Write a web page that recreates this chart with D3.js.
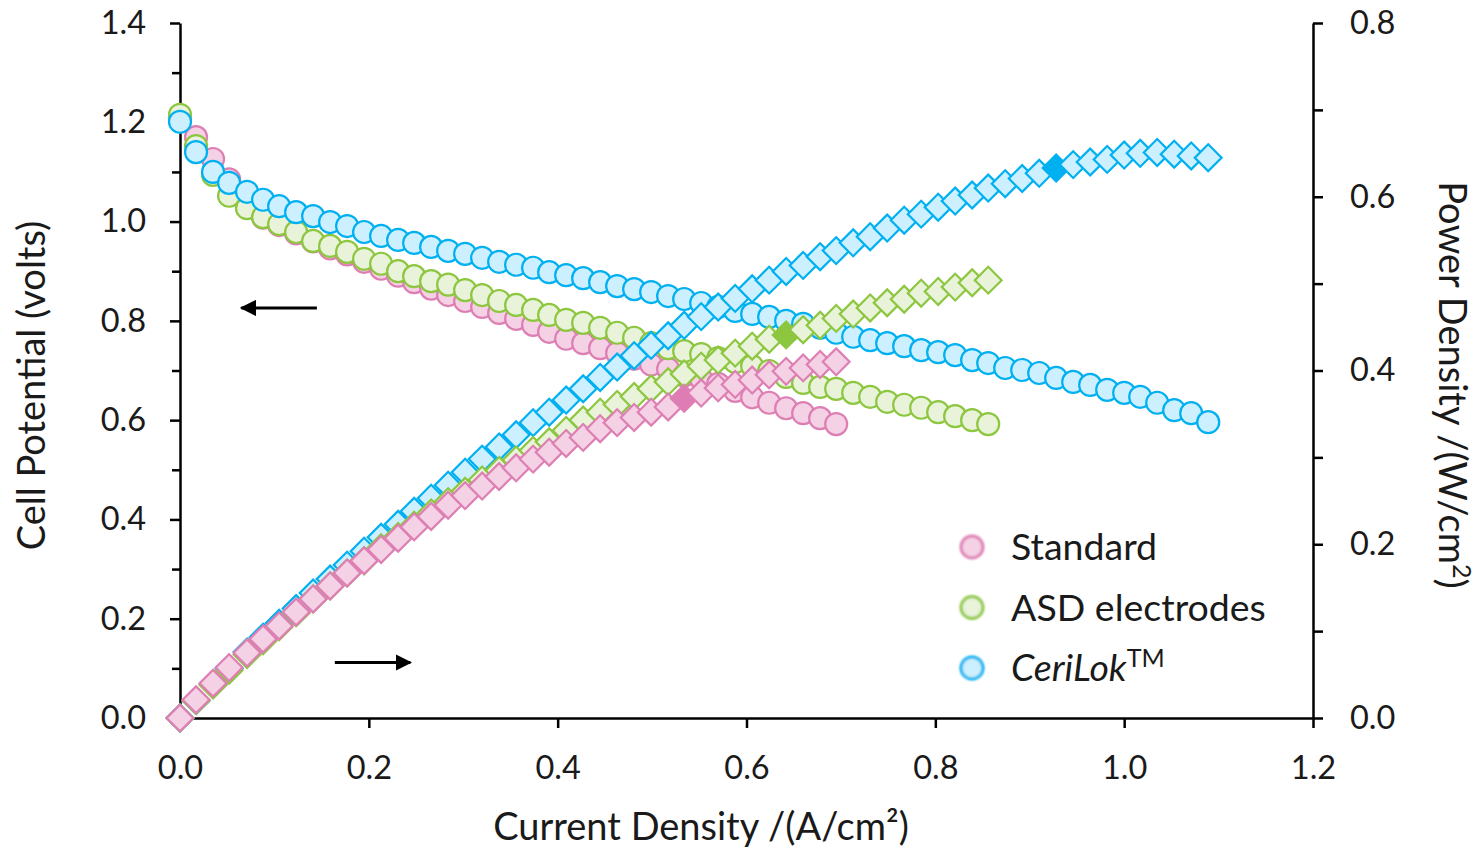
<!DOCTYPE html>
<html>
<head>
<meta charset="utf-8">
<script src="https://cdn.jsdelivr.net/npm/d3@7"></script>
<style>
  html, body { margin: 0; padding: 0; background: #fff; }
  svg { display: block; font-family: Lato, "Open Sans", sans-serif; }
</style>
</head>
<body>
<svg id="chart" width="1480" height="848"></svg>
<script>
// ---------------- data ----------------
const currentDensity = [
  0.000, 0.017, 0.035, 0.052, 0.071, 0.088, 0.105, 0.123, 0.141, 0.159,
  0.177, 0.195, 0.213, 0.231, 0.248, 0.266, 0.284, 0.302, 0.320, 0.338,
  0.356, 0.374, 0.391, 0.409, 0.427, 0.445, 0.463, 0.481, 0.499, 0.517,
  0.534, 0.552, 0.570, 0.588, 0.606, 0.624, 0.642, 0.660, 0.678, 0.695,
  0.713, 0.731, 0.749, 0.767, 0.785, 0.803, 0.821, 0.839, 0.856, 0.874,
  0.892, 0.910, 0.928, 0.946, 0.964, 0.982, 1.000, 1.017, 1.035, 1.053,
  1.071, 1.089
];

const standardVoltage = [
  1.205, 1.170, 1.126, 1.085, 1.035, 1.008, 0.993, 0.976, 0.960, 0.946,
  0.934, 0.919, 0.905, 0.891, 0.878, 0.865, 0.852, 0.840, 0.828, 0.816,
  0.804, 0.792, 0.778, 0.764, 0.755, 0.745, 0.735, 0.724, 0.712, 0.703,
  0.690, 0.683, 0.673, 0.659, 0.646, 0.635, 0.624, 0.614, 0.604, 0.592
];
const standardPower = [
  0.000, 0.021, 0.040, 0.058, 0.075, 0.091, 0.106, 0.122, 0.137, 0.152,
  0.167, 0.181, 0.194, 0.207, 0.220, 0.232, 0.245, 0.256, 0.267, 0.278,
  0.288, 0.298, 0.306, 0.316, 0.323, 0.333, 0.340, 0.346, 0.352, 0.358,
  0.368, 0.374, 0.380, 0.384, 0.389, 0.395, 0.399, 0.403, 0.407, 0.410
];

const asdVoltage = [
  1.215, 1.152, 1.094, 1.052, 1.027, 1.009, 0.995, 0.979, 0.961, 0.951,
  0.939, 0.925, 0.915, 0.900, 0.890, 0.880, 0.873, 0.862, 0.852, 0.840,
  0.832, 0.822, 0.812, 0.802, 0.796, 0.786, 0.776, 0.766, 0.755, 0.745,
  0.739, 0.733, 0.725, 0.717, 0.709, 0.699, 0.687, 0.675, 0.667, 0.663,
  0.655, 0.647, 0.637, 0.631, 0.625, 0.616, 0.608, 0.600, 0.592
];
const asdPower = [
  0.000, 0.020, 0.038, 0.055, 0.073, 0.089, 0.105, 0.121, 0.137, 0.152,
  0.167, 0.181, 0.196, 0.209, 0.222, 0.236, 0.249, 0.261, 0.274, 0.285,
  0.297, 0.308, 0.318, 0.331, 0.343, 0.352, 0.361, 0.370, 0.379, 0.387,
  0.396, 0.405, 0.412, 0.420, 0.428, 0.436, 0.441, 0.447, 0.452, 0.460,
  0.465, 0.472, 0.478, 0.482, 0.489, 0.491, 0.496, 0.501, 0.504
];

const ceriLokVoltage = [
  1.201, 1.140, 1.100, 1.078, 1.060, 1.044, 1.031, 1.019, 1.011, 0.999,
  0.991, 0.979, 0.971, 0.963, 0.957, 0.949, 0.941, 0.935, 0.927, 0.919,
  0.913, 0.907, 0.898, 0.892, 0.886, 0.878, 0.870, 0.864, 0.858, 0.850,
  0.844, 0.836, 0.828, 0.820, 0.814, 0.808, 0.800, 0.794, 0.786, 0.776,
  0.768, 0.761, 0.755, 0.749, 0.741, 0.737, 0.731, 0.721, 0.715, 0.705,
  0.701, 0.695, 0.685, 0.677, 0.671, 0.661, 0.655, 0.647, 0.635, 0.620,
  0.614, 0.596
];
const ceriLokPower = [
  0.000, 0.020, 0.039, 0.057, 0.076, 0.093, 0.109, 0.126, 0.144, 0.160,
  0.176, 0.192, 0.208, 0.223, 0.238, 0.253, 0.268, 0.283, 0.298, 0.312,
  0.326, 0.340, 0.352, 0.366, 0.379, 0.392, 0.404, 0.417, 0.429, 0.440,
  0.452, 0.462, 0.473, 0.483, 0.494, 0.504, 0.514, 0.521, 0.531, 0.538,
  0.547, 0.554, 0.564, 0.573, 0.580, 0.588, 0.595, 0.602, 0.610, 0.615,
  0.621, 0.627, 0.633, 0.637, 0.640, 0.643, 0.648, 0.650, 0.651, 0.649,
  0.647, 0.645
];

// index of the highlighted (filled) power point of each series
const highlightIndex = { standard: 30, asd: 36, cerilok: 52 };

const seriesNames = ["Standard", "ASD electrodes", "CeriLok"];
const xTicks = [0, 0.2, 0.4, 0.6, 0.8, 1.0, 1.2];
const yLeftTicks = [0, 0.2, 0.4, 0.6, 0.8, 1.0, 1.2, 1.4];
const yLeftMinor = [0.1, 0.3, 0.5, 0.7, 0.9, 1.1, 1.3];
const yRightTicks = [0, 0.2, 0.4, 0.6, 0.8];
const yRightMinor = [0.1, 0.3, 0.5, 0.7];

// ---------------- styles ----------------
const styles = {
  standard: { stroke: "#DE7FB4", fill: "#F4D1E4", solid: "#DE7CB4" },
  asd:      { stroke: "#8DC63F", fill: "#E8F3DA", solid: "#8DC63F" },
  cerilok:  { stroke: "#00B0F0", fill: "#CCF0FF", solid: "#00B0F0" }
};

const series = [
  { key: "standard", V: standardVoltage, P: standardPower },
  { key: "asd",      V: asdVoltage,      P: asdPower },
  { key: "cerilok",  V: ceriLokVoltage,  P: ceriLokPower }
];

// ---------------- scales ----------------
const L = 180, R = 1313, T = 23, B = 718;
const x = d3.scaleLinear().domain([0, 1.2]).range([L, R]);
const yL = d3.scaleLinear().domain([0, 1.4]).range([B, T]);
const yR = d3.scaleLinear().domain([0, 0.8]).range([B, T]);

const svg = d3.select("#chart");
const fmt = d3.format(".1f");
const tickFont = 32.5;
const titleFont = 38;

// ---------------- axes ----------------
const axisColor = "#000";
function styleAxis(g) {
  g.select(".domain").attr("stroke", axisColor).attr("stroke-width", 2.5);
  g.selectAll(".tick line").attr("stroke", axisColor).attr("stroke-width", 2.5);
  g.selectAll(".tick text").attr("fill", "#1a1a1a").style("font-size", tickFont + "px")
    .style("font-family", "Lato, sans-serif");
}

// minor ticks (no labels)
svg.append("g").attr("transform", `translate(${L},0)`)
  .call(d3.axisLeft(yL).tickValues(yLeftMinor).tickSize(8).tickFormat(""))
  .call(g => { g.select(".domain").remove(); g.selectAll(".tick line").attr("stroke", axisColor).attr("stroke-width", 2.5); });
svg.append("g").attr("transform", `translate(${R},0)`)
  .call(d3.axisRight(yR).tickValues(yRightMinor).tickSize(10).tickFormat(""))
  .call(g => { g.select(".domain").remove(); g.selectAll(".tick line").attr("stroke", axisColor).attr("stroke-width", 2.5); });

svg.append("g").attr("transform", `translate(0,${B})`)
  .call(d3.axisBottom(x).tickValues(xTicks).tickSize(10).tickSizeOuter(0).tickPadding(18).tickFormat(fmt))
  .call(styleAxis)
  .call(g => g.selectAll(".tick text").attr("dy", "1.0em"));

svg.append("g").attr("transform", `translate(${L},0)`)
  .call(d3.axisLeft(yL).tickValues(yLeftTicks).tickSize(10).tickSizeOuter(0).tickPadding(24).tickFormat(fmt))
  .call(styleAxis);

svg.append("g").attr("transform", `translate(${R},0)`)
  .call(d3.axisRight(yR).tickValues(yRightTicks).tickSize(10).tickSizeOuter(0).tickPadding(27).tickFormat(fmt))
  .call(styleAxis);

// ---------------- axis titles ----------------
svg.append("text")
  .attr("transform", `translate(45,${(T + B) / 2 + 15}) rotate(-90)`)
  .attr("text-anchor", "middle")
  .style("font-size", titleFont + "px").attr("fill", "#1a1a1a")
  .text("Cell Potential (volts)");

svg.append("text")
  .attr("x", 701).attr("y", 840)
  .attr("text-anchor", "middle")
  .style("font-size", titleFont + "px").attr("fill", "#1a1a1a")
  .text("Current Density /(A/cm²)");

const rt = svg.append("text")
  .attr("transform", `translate(1439,${385}) rotate(90)`)
  .attr("text-anchor", "middle")
  .style("font-size", titleFont + "px").attr("fill", "#1a1a1a");
rt.append("tspan").text("Power Density /(W/cm");
rt.append("tspan").attr("dy", -14).style("font-size", "25px").text("2");
rt.append("tspan").attr("dy", 14).text(")");

// ---------------- marks ----------------
const rCircle = 11;
const diamond = d3.symbol().type(d3.symbolSquare).size(360);

// circles: standard, asd, cerilok (cerilok on top)
series.forEach(s => {
  const st = styles[s.key];
  svg.append("g").selectAll("circle")
    .data(s.V.map((v, i) => ({ i: currentDensity[i], v })))
    .join("circle")
    .attr("cx", d => x(d.i)).attr("cy", d => yL(d.v)).attr("r", rCircle)
    .attr("fill", st.fill).attr("stroke", st.stroke).attr("stroke-width", 2.2);
});

// diamonds: cerilok, asd, standard (standard on top)
[...series].reverse().forEach(s => {
  const st = styles[s.key];
  const hi = highlightIndex[s.key];
  svg.append("g").selectAll("path")
    .data(s.P.map((p, i) => ({ i: currentDensity[i], p, idx: i })))
    .join("path")
    .attr("d", diamond)
    .attr("transform", d => `translate(${x(d.i)},${yR(d.p)}) rotate(45)`)
    .attr("fill", d => d.idx === hi ? st.solid : st.fill)
    .attr("stroke", st.stroke).attr("stroke-width", 2.2);
});

// ---------------- arrows ----------------
const defs = svg.append("defs");
defs.append("marker").attr("id", "ah").attr("viewBox", "0 0 10 10")
  .attr("refX", 9).attr("refY", 5).attr("markerWidth", 5.5).attr("markerHeight", 5.5)
  .attr("markerUnits", "strokeWidth").attr("orient", "auto")
  .append("path").attr("d", "M0,0 L10,5 L0,10 Z").attr("fill", "#000");
defs.append("filter").attr("id", "soft").append("feGaussianBlur").attr("stdDeviation", 1.2);

svg.append("line").attr("x1", x(0.145)).attr("y1", yL(0.826)).attr("x2", x(0.065)).attr("y2", yL(0.826))
  .attr("stroke", "#000").attr("stroke-width", 3).attr("marker-end", "url(#ah)");
svg.append("line").attr("x1", x(0.164)).attr("y1", yR(0.064)).attr("x2", x(0.244)).attr("y2", yR(0.064))
  .attr("stroke", "#000").attr("stroke-width", 3).attr("marker-end", "url(#ah)");

// ---------------- legend ----------------
const legend = svg.append("g");
const legendKeys = ["standard", "asd", "cerilok"];
legendKeys.forEach((k, j) => {
  const cy = 547 + j * 60.5;
  legend.append("circle").attr("cx", 972).attr("cy", cy).attr("r", 11)
    .attr("fill", styles[k].fill).attr("stroke", styles[k].stroke).attr("stroke-width", 3)
    .attr("filter", "url(#soft)");
  const t = legend.append("text").attr("x", 1011).attr("y", cy + 13)
    .style("font-size", "37.5px").attr("fill", "#1a1a1a");
  if (k === "cerilok") {
    t.append("tspan").style("font-style", "italic").text(seriesNames[j]);
    t.append("tspan").attr("dy", -14).style("font-size", "25px").text("TM");
  } else {
    t.text(seriesNames[j]);
  }
});
</script>
</body>
</html>
